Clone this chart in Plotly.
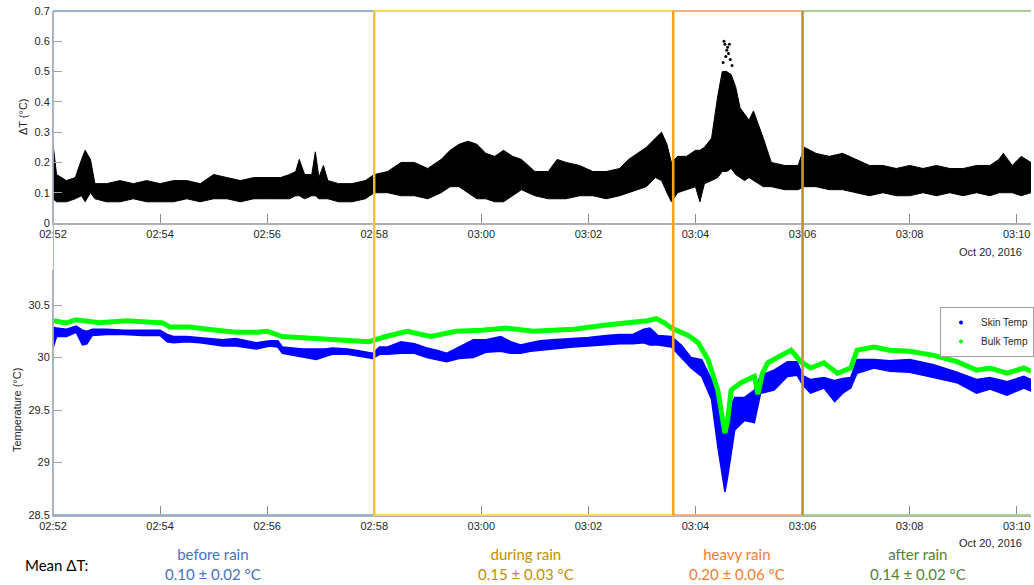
import pandas as pd
import plotly.graph_objects as go

# ---------------- data ----------------
base_time = "2016-10-20 02:52:00"

# Delta T envelope (seconds after 02:52:00, lower / upper edge of point cloud, degC)
dt_sec = [0, 4, 15, 25, 32, 36, 42, 47, 60, 75, 90, 105, 120, 135, 150, 165, 180, 195,
          210, 225, 240, 255, 265, 272, 276, 282, 290, 294, 298, 303, 308, 320, 335, 350,
          360, 375, 390, 405, 420, 435, 445, 455, 465, 475, 485, 495, 505, 515, 525, 540,
          555, 565, 575, 590, 605, 620, 635, 645, 655, 665, 675, 682, 688, 693, 700, 710,
          720, 725, 730, 738, 745, 750, 755, 760, 765, 770, 775, 780, 785, 790, 796, 805,
          820, 835, 842, 855, 870, 885, 900, 915, 930, 945, 960, 975, 990, 1005, 1020,
          1035, 1050, 1060, 1065, 1075, 1085, 1096]
dt_low = [0.08, 0.07, 0.07, 0.08, 0.09, 0.07, 0.10, 0.08, 0.07, 0.07, 0.08, 0.07, 0.07,
          0.07, 0.08, 0.07, 0.08, 0.08, 0.07, 0.08, 0.08, 0.08, 0.08, 0.09, 0.09, 0.08,
          0.09, 0.09, 0.08, 0.08, 0.08, 0.07, 0.07, 0.08, 0.10, 0.10, 0.09, 0.09, 0.08,
          0.10, 0.12, 0.12, 0.10, 0.08, 0.08, 0.07, 0.07, 0.09, 0.11, 0.09, 0.08, 0.08,
          0.08, 0.09, 0.09, 0.08, 0.09, 0.10, 0.11, 0.12, 0.15, 0.14, 0.10, 0.07, 0.10,
          0.11, 0.12, 0.07, 0.13, 0.14, 0.15, 0.17, 0.17, 0.18, 0.16, 0.15, 0.14, 0.15,
          0.14, 0.13, 0.12, 0.12, 0.11, 0.11, 0.12, 0.12, 0.11, 0.11, 0.10, 0.09, 0.10,
          0.09, 0.09, 0.10, 0.09, 0.10, 0.09, 0.10, 0.09, 0.10, 0.10, 0.10, 0.09, 0.10]
dt_high = [0.26, 0.16, 0.14, 0.15, 0.21, 0.24, 0.21, 0.13, 0.13, 0.14, 0.13, 0.14, 0.13,
           0.14, 0.14, 0.13, 0.16, 0.15, 0.14, 0.15, 0.15, 0.15, 0.16, 0.17, 0.21, 0.16,
           0.16, 0.235, 0.15, 0.19, 0.14, 0.13, 0.13, 0.14, 0.16, 0.17, 0.20, 0.20, 0.18,
           0.21, 0.24, 0.26, 0.27, 0.26, 0.23, 0.22, 0.24, 0.22, 0.21, 0.17, 0.17, 0.21,
           0.20, 0.19, 0.17, 0.17, 0.18, 0.21, 0.23, 0.25, 0.28, 0.30, 0.26, 0.20, 0.22,
           0.22, 0.24, 0.24, 0.25, 0.28, 0.42, 0.50, 0.50, 0.49, 0.45, 0.38, 0.36, 0.34,
           0.37, 0.33, 0.28, 0.20, 0.19, 0.19, 0.25, 0.23, 0.22, 0.23, 0.21, 0.19, 0.19,
           0.18, 0.19, 0.18, 0.19, 0.18, 0.18, 0.19, 0.19, 0.21, 0.23, 0.19, 0.22, 0.20]
# isolated high Delta T points during the heavy-rain peak
dt_out_sec = [749, 751, 752, 753, 754, 755, 756, 757, 758, 759, 761]
dt_out_val = [0.46, 0.53, 0.60, 0.59, 0.55, 0.57, 0.58, 0.56, 0.59, 0.54, 0.52]

# Skin temperature envelope
skin_sec = [0, 4, 15, 26, 33, 38, 44, 60, 80, 100, 120, 128, 135, 150, 165, 180, 190, 205,
            220, 228, 243, 252, 257, 270, 280, 295, 305, 313, 330, 346, 358, 366, 375, 390,
            405, 419, 430, 441, 455, 471, 485, 502, 513, 524, 535, 546, 560, 583, 600, 620,
            635, 650, 662, 669, 678, 693, 704, 715, 727, 738, 745, 751, 753, 756, 764, 775,
            786, 793, 808, 823, 834, 840, 849, 864, 876, 885, 894, 901, 920, 938, 960, 987,
            1013, 1035, 1050, 1069, 1088, 1096]
skin_low = [30.09, 30.20, 30.20, 30.24, 30.12, 30.13, 30.21, 30.22, 30.22, 30.21, 30.21,
            30.15, 30.14, 30.15, 30.14, 30.12, 30.11, 30.11, 30.09, 30.08, 30.11, 30.10,
            30.04, 30.02, 30.00, 29.98, 30.01, 30.03, 30.03, 30.01, 29.99, 30.03, 30.03,
            30.04, 30.04, 30.00, 29.98, 29.96, 29.99, 30.00, 30.05, 30.06, 30.04, 30.04,
            30.06, 30.07, 30.08, 30.10, 30.11, 30.12, 30.13, 30.13, 30.14, 30.12, 30.12,
            30.10, 30.00, 29.90, 29.82, 29.60, 29.15, 28.80, 28.72, 28.86, 29.31, 29.40,
            29.38, 29.66, 29.69, 29.82, 29.83, 29.74, 29.66, 29.71, 29.58, 29.66, 29.71,
            29.85, 29.90, 29.87, 29.86, 29.81, 29.76, 29.66, 29.70, 29.64, 29.71, 29.68]
skin_high = [30.29, 30.28, 30.27, 30.30, 30.26, 30.25, 30.27, 30.27, 30.26, 30.26, 30.26,
             30.22, 30.20, 30.20, 30.19, 30.18, 30.17, 30.18, 30.15, 30.14, 30.16, 30.16,
             30.10, 30.09, 30.08, 30.08, 30.08, 30.09, 30.08, 30.06, 30.04, 30.10, 30.10,
             30.15, 30.13, 30.09, 30.07, 30.04, 30.10, 30.17, 30.17, 30.20, 30.15, 30.12,
             30.14, 30.16, 30.17, 30.18, 30.19, 30.21, 30.22, 30.22, 30.27, 30.28, 30.21,
             30.20, 30.12, 30.00, 29.98, 29.79, 29.60, 29.31, 29.25, 29.47, 29.62, 29.62,
             29.69, 29.83, 29.88, 29.96, 29.96, 29.83, 29.79, 29.81, 29.78, 29.80, 29.81,
             29.98, 29.98, 29.97, 29.98, 29.93, 29.86, 29.79, 29.81, 29.77, 29.82, 29.79]

# Bulk temperature (centre of the point band)
bulk_sec = [0, 15, 26, 40, 52, 82, 108, 123, 131, 153, 183, 205, 228, 240, 257, 280, 295,
            332, 354, 373, 397, 423, 452, 480, 508, 538, 583, 620, 650, 666, 676, 685, 693,
            712, 723, 734, 745, 750, 753, 756, 760, 771, 786, 790, 795, 801, 820, 827, 838,
            849, 864, 879, 894, 901, 920, 938, 960, 987, 1013, 1035, 1050, 1069, 1088, 1096]
bulk_temp = [30.35, 30.33, 30.36, 30.34, 30.33, 30.35, 30.34, 30.33, 30.29, 30.29, 30.26,
             30.24, 30.24, 30.25, 30.20, 30.19, 30.18, 30.17, 30.15, 30.20, 30.25, 30.20,
             30.25, 30.26, 30.28, 30.25, 30.27, 30.31, 30.33, 30.35, 30.37, 30.33, 30.28,
             30.21, 30.14, 29.98, 29.69, 29.45, 29.28, 29.40, 29.69, 29.76, 29.82, 29.65,
             29.85, 29.95, 30.04, 30.07, 29.96, 29.90, 29.95, 29.85, 29.90, 30.07, 30.10,
             30.07, 30.06, 30.02, 29.96, 29.88, 29.90, 29.85, 29.90, 29.87]

# rain periods (seconds after 02:52:00) and their mean Delta T
period_names = ["before rain", "during rain", "heavy rain", "after rain"]
period_edges = [0, 360, 695, 840, 1140]
period_mean = ["0.10", "0.15", "0.20", "0.14"]
period_sd = ["0.02", "0.03", "0.06", "0.02"]
view_end_sec = 1096

# ---------------- styling ----------------
W, H = 1034, 585
ML, MR, MT, MB = 53, 0, 11, 70
PW, PH = W - ML - MR, H - MT - MB

def px_x(px):
    return (px - ML) / PW

def px_y(py):
    return (H - MB - py) / PH

base = pd.Timestamp(base_time)

def tm(secs):
    return [base + pd.Timedelta(seconds=float(s)) for s in secs]

box_colors = ["#9ab2d0", "#ffd966", "#f4b183", "#a9d18e"]
text_colors = ["#4472c4", "#bf9000", "#ed7d31", "#548235"]
label_px = [213, 527, 739, 921]

TICKFONT = dict(family="Liberation Sans, Arial", size=11, color="#262626")

fig = go.Figure()

# Delta T panel
fig.add_trace(go.Scatter(x=tm(dt_sec), y=dt_high, mode="lines", line=dict(color="black", width=1),
                         showlegend=False, xaxis="x", yaxis="y", hoverinfo="skip"))
fig.add_trace(go.Scatter(x=tm(dt_sec), y=dt_low, mode="lines", line=dict(color="black", width=1),
                         fill="tonexty", fillcolor="black", showlegend=False, xaxis="x", yaxis="y"))
fig.add_trace(go.Scatter(x=tm(dt_out_sec), y=dt_out_val, mode="markers",
                         marker=dict(color="black", size=3), showlegend=False, xaxis="x", yaxis="y"))

# Temperature panel
fig.add_trace(go.Scatter(x=tm(skin_sec), y=skin_high, mode="lines", line=dict(color="#0000ff", width=1.5),
                         showlegend=False, xaxis="x2", yaxis="y2", hoverinfo="skip"))
fig.add_trace(go.Scatter(x=tm(skin_sec), y=skin_low, mode="lines", line=dict(color="#0000ff", width=1.5),
                         fill="tonexty", fillcolor="#0000ff", showlegend=False, xaxis="x2", yaxis="y2"))
fig.add_trace(go.Scatter(x=tm(bulk_sec), y=bulk_temp, mode="lines", line=dict(color="#00ff00", width=5),
                         showlegend=False, xaxis="x2", yaxis="y2"))
# legend entries
fig.add_trace(go.Scatter(x=[None], y=[None], mode="markers", name="Skin Temp",
                         marker=dict(color="#0000ff", size=4), xaxis="x2", yaxis="y2"))
fig.add_trace(go.Scatter(x=[None], y=[None], mode="markers", name="Bulk Temp",
                         marker=dict(color="#00ff00", size=4), xaxis="x2", yaxis="y2"))

xr = [base, base + pd.Timedelta(seconds=view_end_sec)]
xcommon = dict(type="date", range=xr, tickformat="%H:%M", dtick=120000, tick0=base,
               ticks="inside", ticklen=9, tickcolor="#8c8c8c", tickwidth=1,
               showline=True, linecolor="#b0b0b0", linewidth=1.5, showgrid=False,
               zeroline=False, tickfont=TICKFONT)
ycommon = dict(ticks="inside", ticklen=9, tickcolor="#a0a0a0", showline=True,
               linecolor="#b0b0b0", linewidth=1, showgrid=False, zeroline=False,
               tickfont=TICKFONT)

top_bottom = px_y(223)
low_top = px_y(270)
fig.update_layout(
    width=W, height=H, margin=dict(l=ML, r=MR, t=MT, b=MB),
    paper_bgcolor="white", plot_bgcolor="white",
    xaxis=dict(**xcommon, domain=[0, 1], anchor="y"),
    yaxis=dict(**ycommon, domain=[top_bottom, 1], range=[0, 0.7], dtick=0.1, anchor="x"),
    xaxis2=dict(**xcommon, domain=[0, 1], anchor="y2"),
    yaxis2=dict(**ycommon, domain=[0, low_top], range=[28.5, 28.5 + 245 / 105],
                tickvals=[28.5, 29, 29.5, 30, 30.5], ticktext=["28.5", "29", "29.5", "30", "30.5"],
                anchor="x2"),
    legend=dict(x=px_x(943), y=px_y(307), xanchor="left", yanchor="top",
                bgcolor="white", bordercolor="#a0a0a0", borderwidth=1,
                font=dict(family="Liberation Sans, Arial", size=10, color="#262626"),
                tracegroupgap=0, itemwidth=30, traceorder="normal"),
    showlegend=True,
)

# period boxes
shapes = []
for i in range(len(period_names)):
    shapes.append(dict(type="rect", xref="x", yref="paper",
                       x0=tm([period_edges[i]])[0], x1=tm([period_edges[i + 1]])[0],
                       y0=0, y1=1, line=dict(color=box_colors[i], width=1.8),
                       fillcolor="rgba(0,0,0,0)", layer="above"))
shapes.append(dict(type="line", xref="x", yref="paper",
                   x0=tm([period_edges[1]])[0], x1=tm([period_edges[1]])[0], y0=0, y1=1,
                   line=dict(color="#e8c040", width=2)))
shapes.append(dict(type="line", xref="x", yref="paper",
                   x0=tm([period_edges[2]])[0], x1=tm([period_edges[2]])[0], y0=0, y1=1,
                   line=dict(color="#f5a31a", width=2.5)))
shapes.append(dict(type="line", xref="x", yref="paper",
                   x0=tm([period_edges[3]])[0], x1=tm([period_edges[3]])[0], y0=0, y1=1,
                   line=dict(color="#c08a35", width=2.2)))
fig.update_layout(shapes=shapes)

LABELFONT = dict(family="Liberation Sans, Arial", size=11, color="#262626")
ann = []
ann.append(dict(text="ΔT (°C)", x=px_x(23), y=px_y(117), xref="paper", yref="paper",
                xanchor="center", yanchor="middle",
                textangle=-90, showarrow=False, font=LABELFONT))
ann.append(dict(text="Temperature (°C)", x=px_x(17), y=px_y(410), xref="paper", yref="paper",
                xanchor="center", yanchor="middle",
                textangle=-90, showarrow=False, font=LABELFONT))
for yy in (252, 543):
    ann.append(dict(text="Oct 20, 2016", x=px_x(1027), y=px_y(yy), xref="paper", yref="paper",
                    xanchor="right", yanchor="middle", showarrow=False, font=TICKFONT))
ann.append(dict(text="Mean ΔT:", x=px_x(57), y=px_y(565), xref="paper", yref="paper",
                xanchor="center", yanchor="middle",
                showarrow=False, font=dict(family="Lato, Noto Sans", size=15, color="black")))
for i, name in enumerate(period_names):
    ann.append(dict(text=f"{name}<br>{period_mean[i]} ± {period_sd[i]} °C",
                    x=px_x(label_px[i]), y=px_y(564), xref="paper", yref="paper",
                    xanchor="center", yanchor="middle",
                    showarrow=False, align="center",
                    font=dict(family="Lato, Noto Sans", size=15, color=text_colors[i])))
fig.update_layout(annotations=ann)

fig.write_html("out.html")
